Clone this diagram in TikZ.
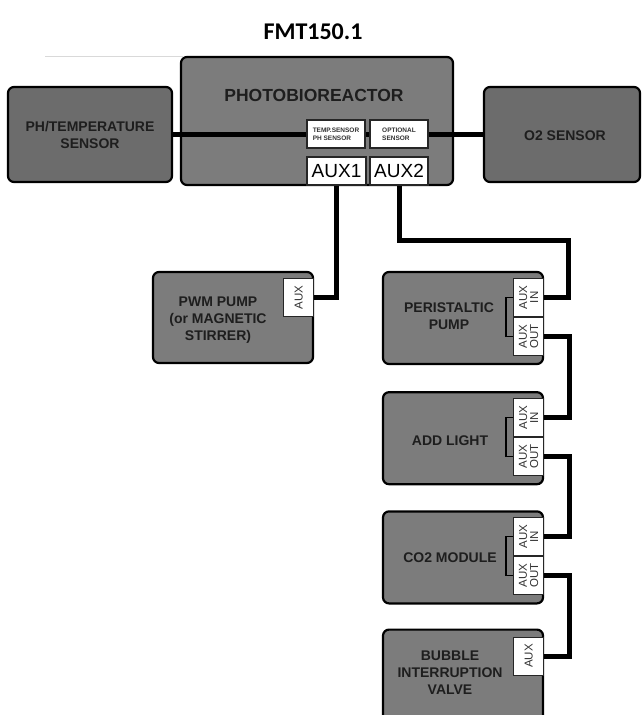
\documentclass[tikz,border=0pt]{standalone}
\usepackage{fontspec}
\setmainfont{Liberation Sans}
\newfontfamily\titlefont{Carlito}
\usetikzlibrary{positioning, calc}

\definecolor{boxgray}{RGB}{124,124,124}
\definecolor{sidegray}{RGB}{108,108,108}
\definecolor{labelgray}{RGB}{30,30,30}

\tikzset{
  unit/.style={draw=black, line width=2.2pt, rounded corners=6pt, fill=boxgray, inner sep=0pt},
  slot/.style={draw=black!85, line width=1.5pt, fill=white, inner sep=0pt},
  tab/.style={draw=black!85, line width=1pt, fill=white, inner sep=0pt,
    minimum width=30pt, minimum height=38pt, font=\fontsize{11.5}{11}\selectfont, text=black!80},
  wire/.style={line width=5pt},
  bridge/.style={line width=1.3pt},
  lbl/.style={font=\bfseries\fontsize{14}{17}\selectfont, text=labelgray, align=center},
}

\begin{document}
\begin{tikzpicture}[x=1pt, y=-1pt]
    \useasboundingbox (0,0) rectangle (643,715);
    \clip (0,0) rectangle (643,715);

    % Title
    \node[font=\titlefont\bfseries\fontsize{24}{26}\selectfont] (title) at (313,32) {FMT150.1};
    \draw[black!15, line width=0.8pt] (45,56) -- (183,56);

    % Reactor and side sensors
    \node[unit, minimum width=272pt, minimum height=128pt] (reactor) at (317,121) {};
    \node[lbl, font=\bfseries\fontsize{17.5}{20}\selectfont] (reactorlbl) at (314,95) {PHOTOBIOREACTOR};

    \node[unit, fill=sidegray, minimum width=164pt, minimum height=95pt] (phsensor) at (90,134.5) {};
    \node[lbl] (phlbl) at (90,135) {PH/TEMPERATURE\\SENSOR};
    \node[unit, fill=sidegray, minimum width=156pt, minimum height=95pt] (otwosensor) at (562,134.5) {};
    \node[lbl] (otwolbl) at (565,136) {O2 SENSOR};

    \draw[wire] (phsensor.east) -- (otwosensor.west);

    % Slots on the reactor
    \node[slot, minimum width=58pt, minimum height=28pt, align=left, text=black!80,
      font=\bfseries\fontsize{6.5}{8}\selectfont] (tempslot) at (336,134) {TEMP.SENSOR\\PH SENSOR};
    \node[slot, minimum width=58pt, minimum height=28pt, align=left, text=black!80,
      font=\bfseries\fontsize{6.5}{8}\selectfont] (optslot) at (399,134) {OPTIONAL\\SENSOR};
    \node[slot, minimum width=59pt, minimum height=28pt,
      font=\fontsize{19}{20}\selectfont] (auxone) at (336.5,171) {AUX1};
    \node[slot, minimum width=58pt, minimum height=28pt,
      font=\fontsize{19}{20}\selectfont] (auxtwo) at (399,171) {AUX2};

    % PWM pump
    \node[unit, minimum width=160pt, minimum height=91pt] (pwm) at (233,317.5) {};
    \node[tab, anchor=north east] (pwmaux) at ([yshift=-7pt]pwm.north east) {\rotatebox{90}{AUX}};
    \node[lbl] (pwmlbl) at (218,320) {PWM PUMP\\(or MAGNETIC\\STIRRER)};

    % Chain of modules
    \node[unit, minimum width=160pt, minimum height=92pt] (peri) at (463,318) {};
    \node[tab, anchor=north east] (periin) at ([yshift=-7pt]peri.north east) {\rotatebox{90}{\shortstack{AUX\\IN}}};
    \node[tab, below=0pt of periin] (periout) {\rotatebox{90}{\shortstack{AUX\\OUT}}};
    \node[lbl] (perilbl) at (449,316) {PERISTALTIC\\PUMP};

    \node[unit, minimum width=160pt, minimum height=92pt, below=26pt of peri] (light) {};
    \node[tab, anchor=north east] (lightin) at ([yshift=-7pt]light.north east) {\rotatebox{90}{\shortstack{AUX\\IN}}};
    \node[tab, below=0pt of lightin] (lightout) {\rotatebox{90}{\shortstack{AUX\\OUT}}};
    \node[lbl] (lightlbl) at (450,441) {ADD LIGHT};

    \node[unit, minimum width=160pt, minimum height=92pt, below=25pt of light] (cotwo) {};
    \node[tab, anchor=north east] (cotwoin) at ([yshift=-7pt]cotwo.north east) {\rotatebox{90}{\shortstack{AUX\\IN}}};
    \node[tab, below=0pt of cotwoin] (cotwoout) {\rotatebox{90}{\shortstack{AUX\\OUT}}};
    \node[lbl] (cotwolbl) at (450,558) {CO2 MODULE};

    \node[unit, minimum width=160pt, minimum height=100pt, below=24pt of cotwo] (bubble) {};
    \node[tab, anchor=north east] (bubbleaux) at ([yshift=-8pt]bubble.north east) {\rotatebox{90}{AUX}};
    \node[lbl] (bubblelbl) at (450,673) {BUBBLE\\INTERRUPTION\\VALVE};

    % Bridges inside modules
    \draw[bridge] (periin.west) -- ++(-7,0) |- (periout.west);
    \draw[bridge] (lightin.west) -- ++(-7,0) |- (lightout.west);
    \draw[bridge] (cotwoin.west) -- ++(-7,0) |- (cotwoout.west);

    % Wiring
    \coordinate (bus) at (568,240);
    \draw[wire] (auxone.south) |- (pwmaux.east);
    \draw[wire] (auxtwo.south) |- (bus) |- (periin.east);
    \draw[wire] (periout.east) -- ++(25,0) |- (lightin.east);
    \draw[wire] (lightout.east) -- ++(25,0) |- (cotwoin.east);
    \draw[wire] (cotwoout.east) -- ++(25,0) |- (bubbleaux.east);
\end{tikzpicture}
\end{document}
